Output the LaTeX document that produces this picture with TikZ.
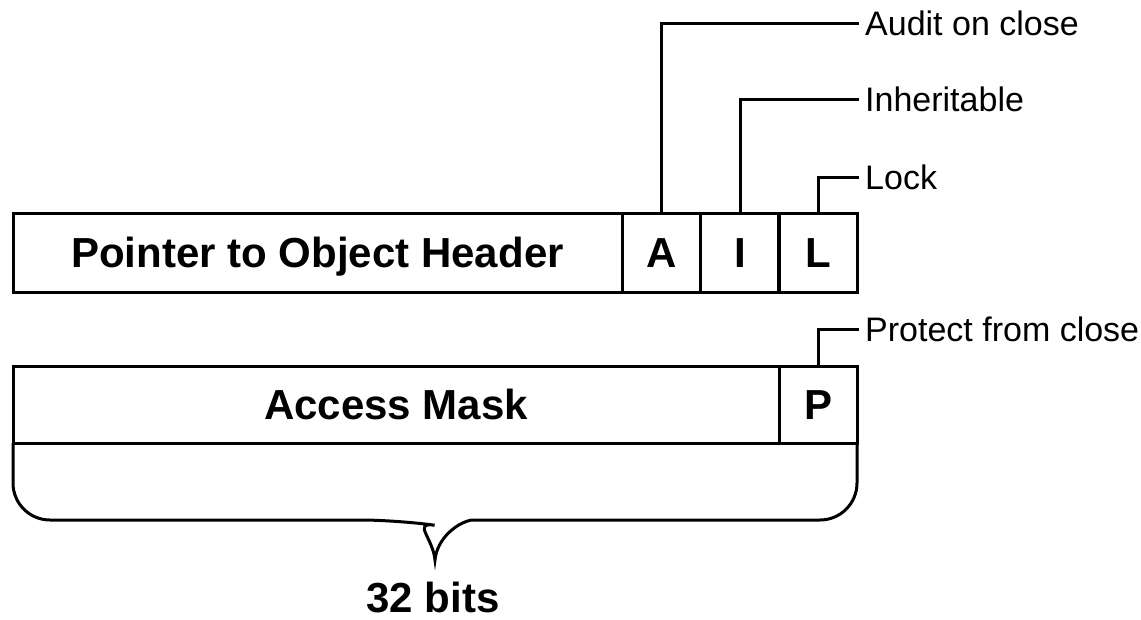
\documentclass[tikz,border=0pt]{standalone}
\usepackage{fontspec}
\setmainfont{Liberation Sans}
\usepackage{tikz}
\tikzstyle{cell} = [draw,line width=3pt,rectangle,inner sep=0pt,outer sep=0pt,text height=30pt,text depth=0pt,font=\fontsize{42}{50}\selectfont\bfseries]
\tikzstyle{flag} = [cell,minimum width=78.5pt]
\tikzstyle{note} = [anchor=west,inner xsep=6pt,inner ysep=0pt,text height=24pt,text depth=0pt,font=\fontsize{34}{40}\selectfont]
\tikzstyle{lead} = [draw,line width=3pt]

\begin{document}
\begin{tikzpicture}[x=1pt,y=-1pt]
    \useasboundingbox (0,0) rectangle (1141,619);

    \node[cell,minimum width=609pt,minimum height=79pt] (ptr) at (317.5,252.5) {Pointer to Object Header};
    \node[flag,minimum height=79pt] (flagA) at (661.5,252.5) {A};
    \node[flag,minimum height=79pt] (flagI) at (740,252.5) {I};
    \node[flag,minimum height=79pt] (flagL) at (818,252.5) {L};

    \node[cell,minimum width=766pt,minimum height=77pt] (mask) at (396,404.5) {Access Mask};
    \node[flag,minimum width=78pt,minimum height=77pt] (flagP) at (818,404.5) {P};

    \node[note] (audit) at (859,23) {Audit on close};
    \node[note] (inherit) at (859,99) {Inheritable};
    \node[note] (lock) at (859,177) {Lock};
    \node[note] (protect) at (859,329) {Protect from close};

    \draw[lead] (flagA.north) |- (audit.west);
    \draw[lead] (flagI.north) |- (inherit.west);
    \draw[lead] (flagL.north) |- (lock.west);
    \draw[lead] (flagP.north) |- (protect.west);

    % brace under the mask word
    \draw[lead] (mask.south west) [rounded corners=37pt] |- (398,520) [sharp corners]
        .. controls (412,522) and (433,538) .. (435,560)
        .. controls (437,538) and (458,522) .. (472,520) [rounded corners=37pt] -| (flagP.south east);

    \node[cell,draw=none] (bits) at (433,597) {32 bits};
\end{tikzpicture}
\end{document}
